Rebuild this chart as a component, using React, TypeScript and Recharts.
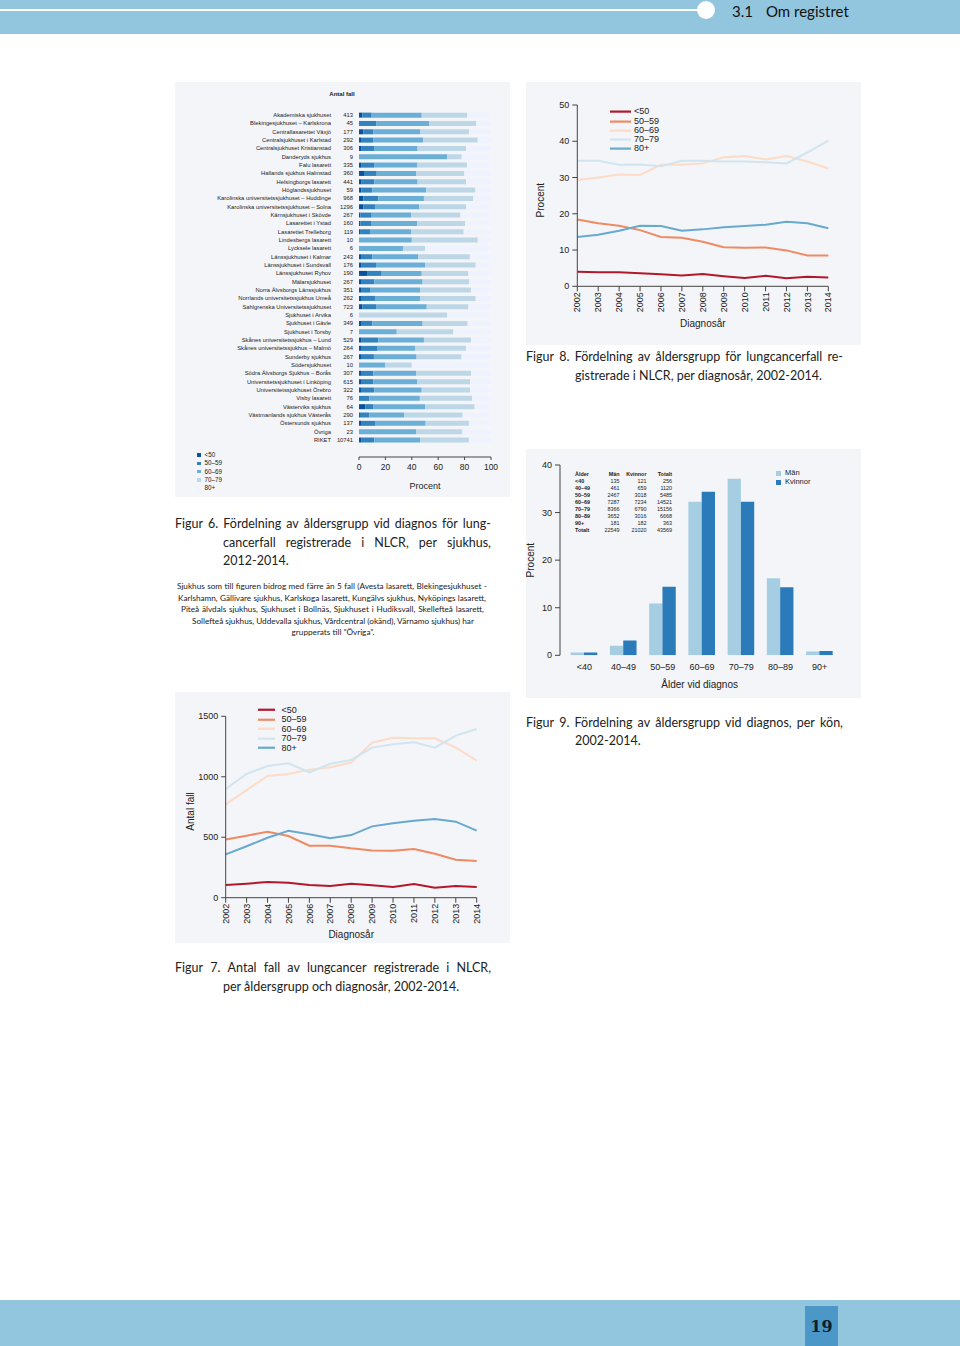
import React from 'react';
import { BarChart, Bar, LineChart, Line, XAxis, YAxis, Legend } from 'recharts';

const AXIS_FONT = '"Liberation Sans", Arial, Helvetica, sans-serif';
const TEXT_FONT = 'Lato, "Open Sans", sans-serif';
const PANEL_BG = '#f3f5f8';
const INK = '#222';
const AXIS_STROKE = '#444';

// ---------- Figur 6 ----------
const hospitals = [
  'Akademiska sjukhuset', 'Blekingesjukhuset – Karlskrona', 'Centrallasarettet Växjö',
  'Centralsjukhuset i Karlstad', 'Centralsjukhuset Kristianstad', 'Danderyds sjukhus',
  'Falu lasarett', 'Hallands sjukhus Halmstad', 'Helsingborgs lasarett', 'Höglandssjukhuset',
  'Karolinska universitetssjukhuset – Huddinge', 'Karolinska universitetssjukhuset – Solna',
  'Kärnsjukhuset i Skövde', 'Lasarettet i Ystad', 'Lasarettet Trelleborg', 'Lindesbergs lasarett',
  'Lycksele lasarett', 'Länssjukhuset i Kalmar', 'Länssjukhuset i Sundsvall', 'Länssjukhuset Ryhov',
  'Mälarsjukhuset', 'Norra Älvsborgs Länssjukhus', 'Norrlands universitetssjukhus Umeå',
  'Sahlgrenska Universitetssjukhuset', 'Sjukhuset i Arvika', 'Sjukhuset i Gävle', 'Sjukhuset i Torsby',
  'Skånes universitetssjukhus – Lund', 'Skånes universitetssjukhus – Malmö', 'Sunderby sjukhus',
  'Södersjukhuset', 'Södra Älvsborgs Sjukhus – Borås', 'Universitetssjukhuset i Linköping',
  'Universitetssjukhuset Örebro', 'Visby lasarett', 'Västerviks sjukhus', 'Västmanlands sjukhus Västerås',
  'Östersunds sjukhus', 'Övriga', 'RIKET',
];
const hospitalCounts = [413, 45, 177, 292, 306, 9, 335, 360, 441, 59, 968, 1296, 267, 160, 119, 10, 6, 243, 176, 190,
  267, 351, 262, 723, 6, 349, 7, 529, 264, 267, 10, 307, 615, 322, 76, 64, 290, 137, 23, 10741];
const hospUnder50 = [2.5, 0, 3.3, 1.5, 2.0, 0, 2.0, 3.8, 2.0, 1.7, 3.3, 3.3, 1.0, 1.0, 0.8, 0, 0, 1.5, 2.0, 6.6,
  1.5, 1.5, 1.5, 2.5, 0, 1.5, 0, 2.0, 1.5, 1.5, 0, 1.5, 1.5, 1.5, 0, 4.7, 0.7, 1.5, 0, 2.0];
const hosp5059 = [7.1, 13.3, 7.6, 9.4, 9.4, 0, 9.4, 9.6, 9.6, 8.5, 11.3, 8.8, 8.6, 8.6, 7.5, 0, 0, 8.6, 10.9, 10.6,
  10.1, 7.3, 10.6, 10.4, 0, 8.6, 0, 12.6, 12.6, 9.8, 0, 9.4, 9.4, 10.1, 7.9, 6.3, 7.1, 10.6, 0, 9.6];
const hosp6069 = [37.9, 40.0, 35.3, 37.8, 33.0, 66.7, 32.8, 29.8, 32.8, 40.7, 34.6, 33.6, 29.8, 34.6, 31.1, 40.0, 33.3, 34.8, 37.1, 30.3,
  36.6, 37.4, 34.1, 38.4, 0, 38.1, 28.6, 34.6, 28.3, 32.3, 20.0, 32.3, 33.3, 35.9, 38.2, 39.1, 26.5, 38.4, 43.5, 34.6];
const hosp7079 = [34.3, 35.6, 37.1, 41.2, 36.7, 11.1, 37.6, 36.6, 36.7, 37.3, 37.4, 35.4, 37.4, 36.1, 39.9, 50.0, 16.7, 39.1, 38.4, 35.4,
  35.4, 38.6, 42.2, 31.6, 66.7, 34.1, 42.9, 35.6, 38.6, 34.1, 20.0, 41.7, 39.9, 36.6, 39.5, 37.5, 44.2, 32.8, 34.8, 37.1];
const hosp80plus = [18.2, 11.1, 16.7, 10.1, 18.9, 22.2, 18.2, 20.2, 18.9, 11.8, 13.4, 18.9, 23.2, 19.7, 20.7, 10.0, 50.0, 16.0, 11.6, 17.1,
  16.4, 15.2, 11.6, 17.1, 33.3, 17.7, 28.5, 15.2, 19.0, 22.3, 60.0, 15.1, 15.9, 15.9, 14.4, 12.4, 21.5, 16.7, 21.7, 16.7];
const hospAgeLabels = ['<50', '50–59', '60–69', '70–79', '80+'];
const hospColors = ['#08519c', '#3182bd', '#6baed6', '#bdd7e7', '#eff3ff'];
const percentTicks = [0, 20, 40, 60, 80, 100];

// ---------- Figur 8 & 7 ----------
const years = [2002, 2003, 2004, 2005, 2006, 2007, 2008, 2009, 2010, 2011, 2012, 2013, 2014];
const lineAgeLabels = ['<50', '50–59', '60–69', '70–79', '80+'];
const lineColors = ['#b2182b', '#ef8a62', '#fddbc7', '#d1e5f0', '#67a9cf'];

const pct50 = [4.0, 3.9, 3.9, 3.6, 3.3, 3.0, 3.4, 2.8, 2.3, 2.9, 2.2, 2.6, 2.4];
const pct5059 = [18.4, 17.4, 16.7, 15.5, 13.6, 13.4, 12.3, 10.8, 10.6, 10.7, 9.9, 8.5, 8.5];
const pct6069 = [29.3, 30.0, 30.8, 30.7, 33.5, 33.5, 33.9, 35.6, 35.9, 35.0, 35.9, 34.4, 32.5];
const pct7079 = [34.6, 34.6, 33.5, 33.6, 33.1, 34.6, 34.6, 34.4, 34.4, 34.2, 33.9, 36.9, 40.2];
const pct80 = [13.6, 14.2, 15.3, 16.7, 16.6, 15.3, 15.7, 16.3, 16.6, 17.0, 17.8, 17.4, 16.0];
const pctTicks = [0, 10, 20, 30, 40, 50];

const cnt50 = [105, 116, 130, 124, 105, 96, 116, 102, 88, 113, 83, 96, 88];
const cnt5059 = [482, 513, 546, 510, 430, 430, 408, 391, 389, 403, 364, 314, 303];
const cnt6069 = [772, 890, 1006, 1023, 1059, 1078, 1117, 1282, 1323, 1318, 1318, 1241, 1133];
const cnt7079 = [899, 1023, 1089, 1111, 1037, 1108, 1139, 1241, 1268, 1285, 1241, 1340, 1395];
const cnt80 = [358, 425, 496, 554, 524, 491, 518, 590, 615, 637, 651, 629, 554];
const cntTicks = [0, 500, 1000, 1500];

// ---------- Figur 9 ----------
const diagAges = ['<40', '40–49', '50–59', '60–69', '70–79', '80–89', '90+'];
const pctMen = [0.6, 2.0, 10.9, 32.3, 37.1, 16.2, 0.8];
const pctWomen = [0.6, 3.1, 14.4, 34.4, 32.3, 14.3, 0.9];
const sexLabels = ['Män', 'Kvinnor'];
const sexColors = ['#a6cee3', '#2b7bba'];
const diagTicks = [0, 10, 20, 30, 40];
const tableHeader = ['Ålder', 'Män', 'Kvinnor', 'Totalt'];
const tableAges = ['<40', '40–49', '50–59', '60–69', '70–79', '80–89', '90+', 'Totalt'];
const tableMen = [135, 461, 2467, 7287, 8366, 3652, 181, 22549];
const tableWomen = [121, 659, 3018, 7234, 6790, 3016, 182, 21020];
const tableTotal = [256, 1120, 5485, 14521, 15156, 6668, 363, 43569];

// ---------- data tables built from arrays ----------
const hospKeys = ['k0', 'k1', 'k2', 'k3', 'k4'];
const hospData = hospitals.map((name, i) => ({
  name, k0: hospUnder50[i], k1: hosp5059[i], k2: hosp6069[i], k3: hosp7079[i], k4: hosp80plus[i],
}));
const lineKeys = ['s0', 's1', 's2', 's3', 's4'];
const pctData = years.map((year, i) => ({ year, s0: pct50[i], s1: pct5059[i], s2: pct6069[i], s3: pct7079[i], s4: pct80[i] }));
const cntData = years.map((year, i) => ({ year, s0: cnt50[i], s1: cnt5059[i], s2: cnt6069[i], s3: cnt7079[i], s4: cnt80[i] }));
const diagData = diagAges.map((age, i) => ({ age, k0: pctMen[i], k1: pctWomen[i] }));

// ---------- helpers ----------
const HospTick = (props: any) => {
  const { x, y, payload } = props;
  const idx = hospitals.indexOf(payload.value);
  return (
    <g fontFamily={AXIS_FONT} fontSize={5.8} fill={INK}>
      <text x={x - 22} y={y} textAnchor="end" dominantBaseline="central">{payload.value}</text>
      <text x={x} y={y} textAnchor="end" dominantBaseline="central">{hospitalCounts[idx]}</text>
    </g>
  );
};

const RotTick = (props: any) => {
  const { x, y, payload } = props;
  return (
    <text x={x} y={y} transform={`rotate(-90 ${x} ${y})`} textAnchor="end" dy="0.35em"
      fontSize={9} fill={INK} fontFamily={AXIS_FONT}>{payload.value}</text>
  );
};

const XTitle = (props: any) => {
  const vb = props.viewBox || { x: 0, y: 0, width: 0, height: 0 };
  return (
    <text x={vb.x + vb.width / 2} y={vb.y + props.shift} textAnchor="middle" fontSize={props.fs || 10}
      fill={INK} fontFamily={AXIS_FONT}>{props.text}</text>
  );
};

const YTitle = (props: any) => {
  const vb = props.viewBox || { x: 0, y: 0, width: 0, height: 0 };
  const cx = props.posX;
  const cy = vb.y + vb.height / 2 + (props.shift || 0);
  return (
    <text x={cx} y={cy} transform={`rotate(-90 ${cx} ${cy})`} textAnchor="middle" dominantBaseline="central"
      fontSize={props.fs || 10} fill={INK} fontFamily={AXIS_FONT}>{props.text}</text>
  );
};

const SquareLegend = (props: any) => {
  const { payload, size, fs, rowH, gap } = props;
  return (
    <div>
      {(payload || []).map((p: any, i: number) => (
        <div key={i} style={{ display: 'flex', alignItems: 'center', height: rowH }}>
          <span style={{ display: 'inline-block', width: size, height: size, background: p.color, marginRight: gap }} />
          <span style={{ fontSize: fs, fontFamily: AXIS_FONT, color: INK, lineHeight: 1 }}>{p.value}</span>
        </div>
      ))}
    </div>
  );
};

const LineLegend = (props: any) => {
  const { payload, len, fs, rowH, gap } = props;
  return (
    <div>
      {(payload || []).map((p: any, i: number) => (
        <div key={i} style={{ display: 'flex', alignItems: 'center', height: rowH }}>
          <svg width={len} height={rowH} style={{ marginRight: gap, display: 'block' }}>
            <line x1={0} x2={len} y1={rowH / 2} y2={rowH / 2} stroke={p.color} strokeWidth={2.2} />
          </svg>
          <span style={{ fontSize: fs, fontFamily: AXIS_FONT, color: INK, lineHeight: 1 }}>{p.value}</span>
        </div>
      ))}
    </div>
  );
};

const JLine = ({ left, top, width, text, size = 12.5, lh = 18 }: any) => (
  <div style={{
    position: 'absolute', left, top, width, display: 'flex', justifyContent: 'space-between',
    fontSize: size, lineHeight: `${lh}px`, fontFamily: TEXT_FONT, color: INK, whiteSpace: 'nowrap',
  }}>
    {text.split(' ').map((w: string, i: number) => <span key={i}>{w}</span>)}
  </div>
);

const PLine = ({ left, top, width, text, size = 12.5, lh = 18, align = 'left' }: any) => (
  <div style={{
    position: 'absolute', left, top, width, textAlign: align, fontSize: size, lineHeight: `${lh}px`,
    fontFamily: TEXT_FONT, color: INK, whiteSpace: 'nowrap',
  }}>{text}</div>
);

const Panel = ({ left, top, width, height, children }: any) => (
  <div style={{ position: 'absolute', left, top, width, height, background: PANEL_BG }}>{children}</div>
);

// ---------- charts ----------
const Fig6 = () => (
  <Panel left={175} top={82} width={335} height={415}>
    <div style={{ position: 'absolute', left: 142, top: 9, width: 50, textAlign: 'center', fontSize: 6, fontWeight: 'bold', fontFamily: AXIS_FONT, color: INK }}>Antal fall</div>
    <BarChart width={335} height={415} data={hospData} layout="vertical"
      margin={{ top: 28.8, right: 19, left: 0, bottom: 0 }} barCategoryGap="22%">
      <XAxis type="number" domain={[0, 100]} ticks={percentTicks} allowDataOverflow height={40}
        tickSize={3} tickMargin={4} stroke={AXIS_STROKE}
        tick={{ fontSize: 8.5, fill: INK, fontFamily: AXIS_FONT }}
        label={<XTitle text="Procent" shift={32} fs={9} />} />
      <YAxis type="category" dataKey="name" width={184} interval={0} tickLine={false} axisLine={false}
        tickSize={0} tickMargin={6} tick={HospTick} padding={{ top: 0, bottom: 13 }} />
      {hospKeys.map((k, i) => (
        <Bar key={k} dataKey={k} name={hospAgeLabels[i]} stackId="s" fill={hospColors[i]} isAnimationActive={false} />
      ))}
      <Legend layout="horizontal" verticalAlign="middle" align="center" itemSorter="dataKey"
        wrapperStyle={{ left: 22, top: 369, width: 60 }}
        content={(p: any) => <SquareLegend {...p} size={3.5} fs={6.3} rowH={8.3} gap={4} />} />
    </BarChart>
  </Panel>
);

const Fig8 = () => (
  <Panel left={526} top={82} width={335} height={263}>
    <LineChart width={335} height={263} data={pctData} margin={{ top: 23, right: 32.7, left: 0, bottom: 0 }}>
      <XAxis dataKey="year" type="number" domain={[2002, 2014]} ticks={years} interval={0} height={58.7}
        tickSize={5} tickMargin={1} stroke={AXIS_STROKE} tick={RotTick}
        label={<XTitle text="Diagnosår" shift={40.5} />} />
      <YAxis type="number" domain={[0, 50]} ticks={pctTicks} allowDataOverflow width={51.3} tickSize={5} tickMargin={3}
        stroke={AXIS_STROKE} tick={{ fontSize: 9, fill: INK, fontFamily: AXIS_FONT }}
        label={<YTitle text="Procent" posX={15} shift={4.5} />} />
      {lineKeys.map((k, i) => (
        <Line key={k} dataKey={k} name={lineAgeLabels[i]} stroke={lineColors[i]} strokeWidth={2}
          dot={false} isAnimationActive={false} type="linear" />
      ))}
      <Legend layout="horizontal" verticalAlign="middle" align="center" itemSorter="dataKey"
        wrapperStyle={{ left: 84, top: 25.4, width: 80 }}
        content={(p: any) => <LineLegend {...p} len={21} fs={9} rowH={9.2} gap={3} />} />
    </LineChart>
  </Panel>
);

const Fig7 = () => (
  <Panel left={175} top={692} width={335} height={251}>
    <LineChart width={335} height={251} data={cntData} margin={{ top: 24.3, right: 33.3, left: 0, bottom: 0 }}>
      <XAxis dataKey="year" type="number" domain={[2002, 2014]} ticks={years} interval={0} height={45.3}
        tickSize={5} tickMargin={1} stroke={AXIS_STROKE} tick={RotTick}
        label={<XTitle text="Diagnosår" shift={40.5} />} />
      <YAxis type="number" domain={[0, 1500]} ticks={cntTicks} allowDataOverflow width={50.7} tickSize={4.5} tickMargin={3}
        stroke={AXIS_STROKE} tick={{ fontSize: 9, fill: INK, fontFamily: AXIS_FONT }}
        label={<YTitle text="Antal fall" posX={15} shift={4.5} />} />
      {lineKeys.map((k, i) => (
        <Line key={k} dataKey={k} name={lineAgeLabels[i]} stroke={lineColors[i]} strokeWidth={2}
          dot={false} isAnimationActive={false} type="linear" />
      ))}
      <Legend layout="horizontal" verticalAlign="middle" align="center" itemSorter="dataKey"
        wrapperStyle={{ left: 82.7, top: 13.3, width: 80 }}
        content={(p: any) => <LineLegend {...p} len={17.3} fs={9} rowH={9.5} gap={6.4} />} />
    </LineChart>
  </Panel>
);

const cellStyle = (w: number, align: string, bold: boolean): React.CSSProperties => ({
  width: w, textAlign: align as any, fontWeight: bold ? 'bold' : 'normal', display: 'inline-block',
});

const Fig9 = () => (
  <Panel left={526} top={449} width={335} height={249}>
    <BarChart width={335} height={249} data={diagData} margin={{ top: 16, right: 21.7, left: 0, bottom: 0 }}
      barGap={0} barCategoryGap={6}>
      <XAxis dataKey="age" type="category" axisLine={false} tickLine={false} tickSize={0} tickMargin={8}
        height={42.7} padding={{ left: 4.7, right: 0 }} interval={0}
        tick={{ fontSize: 9, fill: INK, fontFamily: AXIS_FONT }}
        label={<XTitle text="Ålder vid diagnos" shift={33} />} />
      <YAxis type="number" domain={[0, 40]} ticks={diagTicks} allowDataOverflow width={34} tickSize={5} tickMargin={3}
        stroke={AXIS_STROKE} tick={{ fontSize: 9, fill: INK, fontFamily: AXIS_FONT }}
        label={<YTitle text="Procent" posX={5} shift={0} />} />
      <Bar dataKey="k0" name={sexLabels[0]} fill={sexColors[0]} barSize={13.3} isAnimationActive={false} />
      <Bar dataKey="k1" name={sexLabels[1]} fill={sexColors[1]} barSize={13.3} isAnimationActive={false} />
      <Legend layout="horizontal" verticalAlign="middle" align="center" itemSorter="dataKey"
        wrapperStyle={{ left: 249.5, top: 19.5, width: 60 }}
        content={(p: any) => <SquareLegend {...p} size={5} fs={7.5} rowH={9} gap={4.5} />} />
    </BarChart>
    <div style={{ position: 'absolute', left: 49, top: 21.5, fontFamily: AXIS_FONT, fontSize: 5.4, color: INK, lineHeight: '7.1px' }}>
      <div style={{ whiteSpace: 'nowrap' }}>
        <span style={cellStyle(26, 'left', true)}>{tableHeader[0]}</span>
        <span style={cellStyle(18.5, 'right', true)}>{tableHeader[1]}</span>
        <span style={cellStyle(27, 'right', true)}>{tableHeader[2]}</span>
        <span style={cellStyle(25.5, 'right', true)}>{tableHeader[3]}</span>
      </div>
      {tableAges.map((a, i) => (
        <div key={a} style={{ whiteSpace: 'nowrap' }}>
          <span style={cellStyle(26, 'left', true)}>{a}</span>
          <span style={cellStyle(18.5, 'right', false)}>{tableMen[i]}</span>
          <span style={cellStyle(27, 'right', false)}>{tableWomen[i]}</span>
          <span style={cellStyle(25.5, 'right', false)}>{tableTotal[i]}</span>
        </div>
      ))}
    </div>
  </Panel>
);

export default function App() {
  return (
    <div style={{ position: 'absolute', left: 0, top: 0, width: 960, height: 1346, background: '#fff', overflow: 'hidden', fontFamily: TEXT_FONT }}>
      {/* header */}
      <div style={{ position: 'absolute', left: 0, top: 0, width: 960, height: 34, background: '#92c5de' }}>
        <div style={{ position: 'absolute', left: 0, top: 9, width: 700, height: 2, background: '#fff' }} />
        <div style={{ position: 'absolute', left: 697, top: 1, width: 18, height: 18, borderRadius: '50%', background: '#fff' }} />
        <div style={{ position: 'absolute', left: 732, top: 1, fontSize: 15, lineHeight: '20px', color: '#111' }}>3.1</div>
        <div style={{ position: 'absolute', left: 766, top: 1, fontSize: 15, lineHeight: '20px', color: '#111' }}>Om registret</div>
      </div>

      <Fig6 />
      <Fig8 />
      <Fig9 />
      <Fig7 />

      {/* Figur 8 caption */}
      <JLine left={526} top={348} width={317} text="Figur 8. Fördelning av åldersgrupp för lungcancerfall re-" />
      <PLine left={575} top={367} text="gistrerade i NLCR, per diagnosår, 2002-2014." />

      {/* Figur 6 caption */}
      <JLine left={175} top={515} width={316} text="Figur 6. Fördelning av åldersgrupp vid diagnos för lung-" />
      <JLine left={223} top={534} width={268} text="cancerfall registrerade i NLCR, per sjukhus," />
      <PLine left={223} top={552} text="2012-2014." />

      {/* note */}
      <JLine left={177} top={580} width={310} size={8.2} lh={12} text="Sjukhus som till figuren bidrog med färre än 5 fall (Avesta lasarett, Blekingesjukhuset -" />
      <JLine left={178} top={591.5} width={308} size={8.2} lh={12} text="Karlshamn, Gällivare sjukhus, Karlskoga lasarett, Kungälvs sjukhus, Nyköpings lasarett," />
      <JLine left={181} top={603} width={303} size={8.2} lh={12} text="Piteå älvdals sjukhus, Sjukhuset i Bollnäs, Sjukhuset i Hudiksvall, Skellefteå lasarett," />
      <PLine left={175} top={614.5} width={316} align="center" size={8.2} lh={12} text="Sollefteå sjukhus, Uddevalla sjukhus, Vårdcentral (okänd), Värnamo sjukhus) har" />
      <PLine left={175} top={626} width={316} align="center" size={8.2} lh={12} text="grupperats till ”Övriga”." />

      {/* Figur 9 caption */}
      <JLine left={526} top={714} width={317} text="Figur 9. Fördelning av åldersgrupp vid diagnos, per kön," />
      <PLine left={575} top={732} text="2002-2014." />

      {/* Figur 7 caption */}
      <JLine left={175} top={959} width={316} text="Figur 7. Antal fall av lungcancer registrerade i NLCR," />
      <PLine left={223} top={978} text="per åldersgrupp och diagnosår, 2002-2014." />

      {/* footer */}
      <div style={{ position: 'absolute', left: 0, top: 1300, width: 960, height: 46, background: '#92c5de' }} />
      <div style={{
        position: 'absolute', left: 805, top: 1306, width: 33, height: 40, background: '#4a97c8',
        display: 'flex', alignItems: 'center', justifyContent: 'center',
        fontFamily: '"DejaVu Serif", "Liberation Serif", serif', fontWeight: 'bold', fontSize: 16, color: '#0f1e2e',
      }}>19</div>
    </div>
  );
}
